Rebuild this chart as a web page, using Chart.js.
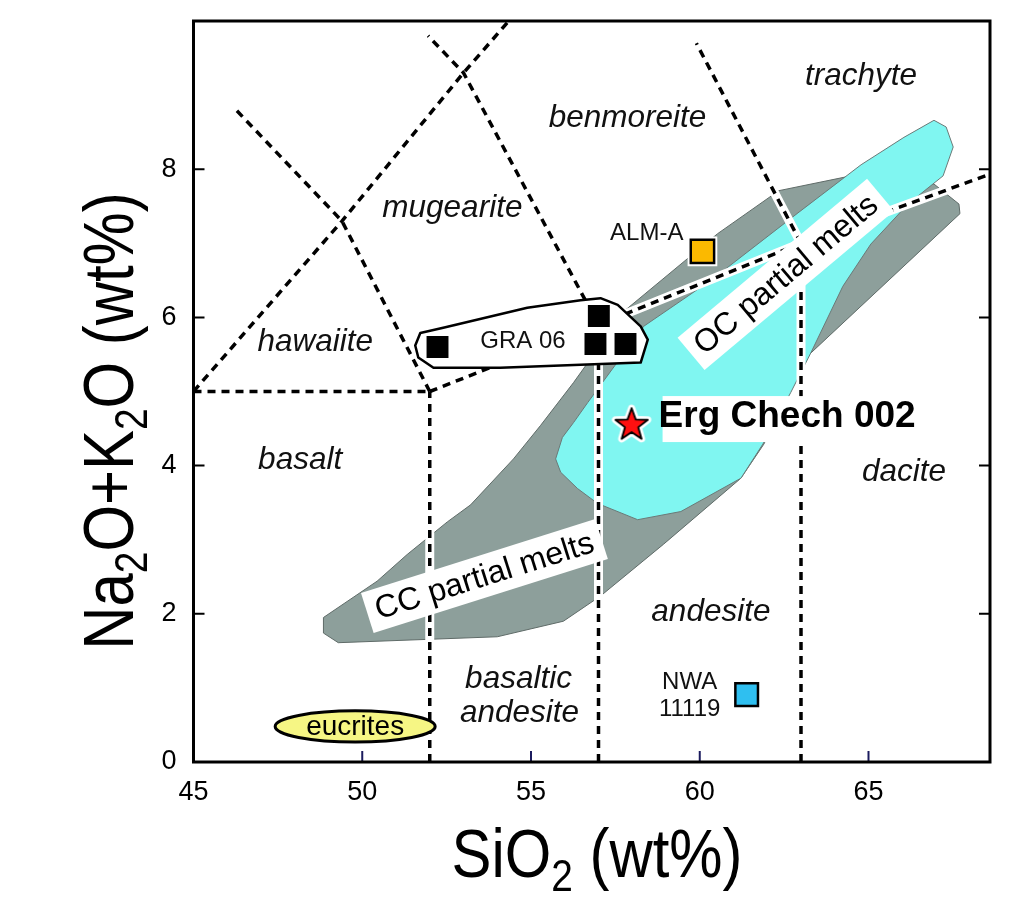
<!DOCTYPE html>
<html>
<head>
<meta charset="utf-8">
<script src="https://cdn.jsdelivr.net/npm/chart.js@4.4.0/dist/chart.umd.min.js"></script>
<style>
  html, body { margin: 0; padding: 0; background: #fff; }
  #wrap { width: 1024px; height: 903px; }
</style>
</head>
<body>
<div id="wrap"><canvas id="tas" width="1024" height="903"></canvas></div>
<script>
// Axis ticks.
var xTicks = [45, 50, 55, 60, 65];
var yTicks = [0, 2, 4, 6, 8];

// TAS field boundaries, as [SiO2, Na2O+K2O] pairs.
var lineBasaltTop = [[45, 5], [52, 5]];
var lineSi52 = [[52, 0], [52, 5]];
var lineTrachyBase = [[52, 5], [57, 5.9], [63, 7], [69, 8]];
var lineSi57 = [[57, 0], [57, 5.9]];
var lineSi63 = [[63, 0], [63, 7]];
var lineHawaiiteTop = [[45, 5], [49.4, 7.3], [53, 9.3], [57.6, 11.7]];
var lineHawaiiteRight = [[52, 5], [49.4, 7.3], [46.2, 8.83]];
var lineMugeariteRight = [[57, 5.9], [53, 9.3], [51.95, 9.8]];
var lineBenmoreiteRight = [[63, 7], [59.9, 9.7]];

// CC partial melts field (grey).
var ccMeltsSiO2 = [48.85, 48.85, 49.29, 54.0, 55.96, 57.06, 58.93, 61.22, 61.90, 62.64, 63.20, 67.71, 67.68, 66.94, 64.48, 62.34, 60.53, 57.80, 56.26, 55.28, 54.48, 53.21, 52.52, 51.33, 50.44];
var ccMeltsAlk = [1.95, 1.74, 1.61, 1.69, 1.90, 2.24, 2.94, 3.83, 4.29, 4.99, 5.48, 7.40, 7.53, 7.80, 7.91, 7.71, 7.13, 6.10, 5.12, 4.54, 4.09, 3.47, 3.24, 2.80, 2.44];

// OC partial melts field (cyan).
var ocMeltsSiO2 = [66.94, 67.30, 67.51, 67.21, 66.17, 65.07, 64.24, 63.29, 62.70, 61.87, 61.22, 59.44, 58.16, 56.97, 56.38, 55.88, 55.73, 55.93, 56.26, 56.68, 58.34, 60.33, 62.91, 64.78, 66.05];
var ocMeltsAlk = [8.66, 8.57, 8.30, 7.91, 7.53, 6.99, 6.42, 5.52, 4.99, 4.29, 3.83, 3.38, 3.27, 3.49, 3.69, 3.91, 4.09, 4.38, 4.58, 4.85, 5.88, 6.50, 7.41, 8.06, 8.43];

// GRA 06 envelope.
var graEnvSiO2 = [51.72, 51.57, 51.66, 52.11, 54.09, 58.25, 58.46, 58.25, 57.57, 57.06, 56.47, 54.89, 52.40];
var graEnvAlk = [5.79, 5.62, 5.46, 5.32, 5.32, 5.39, 5.70, 5.88, 6.17, 6.26, 6.23, 6.13, 5.86];

// Eucrites field (ellipse centre and half axes in wt%).
var eucriteCentre = [49.79, 0.48];
var eucriteHalfAxes = [2.37, 0.21];

// Samples.
var graSiO2 = [52.23, 57.01, 56.91, 57.80];
var graAlk = [5.60, 6.02, 5.64, 5.64];
var almSiO2 = [60.08];
var almAlk = [6.89];
var nwaSiO2 = [61.39];
var nwaAlk = [0.91];
var ergSiO2 = [57.98];
var ergAlk = [4.56];

// Text labels, anchored in data units.
var fieldNames = ['trachyte', 'benmoreite', 'mugearite', 'hawaiite', 'basalt', 'dacite', 'andesite', 'basaltic', 'andesite'];
var fieldNameX = [64.78, 57.86, 52.67, 48.61, 48.16, 66.05, 60.33, 54.63, 54.66];
var fieldNameY = [9.14, 8.57, 7.36, 5.55, 3.95, 3.79, 1.90, 1.005, 0.54];
var sampleNames = ['ALM-A', 'GRA 06', 'NWA', '11119'];
var sampleNameX = [58.43, 54.76, 59.70, 59.70];
var sampleNameY = [7.05, 5.59, 0.98, 0.62];
var meltLabels = ['OC partial melts', 'CC partial melts'];
var meltLabelX = [62.55, 53.62];
var meltLabelY = [6.58, 2.51];
var meltLabelAngle = [-40, -17.5];

var SANS = "'Liberation Sans', Arial, sans-serif";

function toPoints(pairs) {
  return pairs.map(function (p) { return { x: p[0], y: p[1] }; });
}

function zipPoints(xs, ys) {
  return xs.map(function (x, i) { return { x: x, y: ys[i] }; });
}

function px(chart, x, y) {
  return [chart.scales.x.getPixelForValue(x), chart.scales.y.getPixelForValue(y)];
}

function tracePolygon(ctx, chart, xs, ys) {
  ctx.beginPath();
  for (var i = 0; i < xs.length; i++) {
    var p = px(chart, xs[i], ys[i]);
    if (i === 0) ctx.moveTo(p[0], p[1]); else ctx.lineTo(p[0], p[1]);
  }
  ctx.closePath();
}

// Five-pointed star marker with a white halo.
function makeStar() {
  var c = document.createElement('canvas');
  c.width = 46; c.height = 46;
  var g = c.getContext('2d');
  g.beginPath();
  for (var i = 0; i < 10; i++) {
    var r = i % 2 === 0 ? 17 : 7;
    var a = -Math.PI / 2 + i * Math.PI / 5;
    var x = 23 + r * Math.cos(a), y = 24 + r * Math.sin(a);
    if (i === 0) g.moveTo(x, y); else g.lineTo(x, y);
  }
  g.closePath();
  g.lineJoin = 'round';
  g.strokeStyle = '#fff';
  g.lineWidth = 7;
  g.stroke();
  g.fillStyle = '#ff1010';
  g.fill();
  g.strokeStyle = '#000';
  g.lineWidth = 1.8;
  g.stroke();
  return c;
}

var boundaries = [lineBasaltTop, lineSi52, lineTrachyBase, lineSi57, lineSi63,
  lineHawaiiteTop, lineHawaiiteRight, lineMugeariteRight, lineBenmoreiteRight];

var datasets = [];
boundaries.forEach(function (b) {
  // White strip under each boundary, visible where it crosses the melt fields.
  datasets.push({ label: 'strip', data: toPoints(b), showLine: true, borderColor: '#fff',
    borderWidth: 9, pointRadius: 0, clip: 0, order: 30 });
  datasets.push({ label: 'boundary', data: toPoints(b), showLine: true, borderColor: '#000',
    borderWidth: 3.5, borderDash: [8, 6], pointRadius: 0, clip: 0, order: 20 });
});
datasets.push({ label: 'ALM-A halo', data: zipPoints(almSiO2, almAlk), pointStyle: 'rect',
  pointRadius: 21, backgroundColor: '#fff', borderWidth: 0, order: 6 });
datasets.push({ label: 'GRA 06', data: zipPoints(graSiO2, graAlk), pointStyle: 'rect',
  pointRadius: 15.5, backgroundColor: '#000', borderWidth: 0, order: 5 });
datasets.push({ label: 'ALM-A', data: zipPoints(almSiO2, almAlk), pointStyle: 'rect',
  pointRadius: 16.5, backgroundColor: '#fbb900', borderColor: '#000', borderWidth: 2.5, order: 4 });
datasets.push({ label: 'NWA 11119', data: zipPoints(nwaSiO2, nwaAlk), pointStyle: 'rect',
  pointRadius: 16, backgroundColor: '#2fbff0', borderColor: '#000', borderWidth: 2.5, order: 3 });
datasets.push({ label: 'Erg Chech 002', data: zipPoints(ergSiO2, ergAlk), pointStyle: makeStar(),
  order: 2 });

// Draws text made of normal and subscript parts, centred on x, squeezed sideways.
function drawParts(ctx, parts, x, y, size, squeeze) {
  var total = 0;
  parts.forEach(function (p) {
    ctx.font = (p.sub ? size * 0.65 : size) + 'px ' + SANS;
    p.w = ctx.measureText(p.t).width;
    total += p.w;
  });
  ctx.save();
  ctx.translate(x, y);
  ctx.scale(squeeze, 1);
  var cx = -total / 2;
  parts.forEach(function (p) {
    ctx.font = (p.sub ? size * 0.65 : size) + 'px ' + SANS;
    ctx.fillText(p.t, cx, p.sub ? size * 0.2 : 0);
    cx += p.w;
  });
  ctx.restore();
}

var tasPlugin = {
  id: 'tas',
  beforeDatasetsDraw: function (chart) {
    var ctx = chart.ctx, a = chart.chartArea;
    ctx.save();
    ctx.beginPath();
    ctx.rect(a.left, a.top, a.right - a.left, a.bottom - a.top);
    ctx.clip();
    ctx.lineWidth = 1;
    ctx.strokeStyle = '#5f6b68';
    tracePolygon(ctx, chart, ccMeltsSiO2, ccMeltsAlk);
    ctx.fillStyle = '#8d9f9b';
    ctx.fill();
    ctx.stroke();
    tracePolygon(ctx, chart, ocMeltsSiO2, ocMeltsAlk);
    ctx.fillStyle = '#80f6f1';
    ctx.fill();
    ctx.strokeStyle = '#6a7a78';
    ctx.stroke();
    ctx.restore();
  },
  beforeDatasetDraw: function (chart, args) {
    if (chart.data.datasets[args.index].label !== 'ALM-A halo') return;
    var ctx = chart.ctx;
    ctx.save();

    // Eucrites ellipse.
    var c = px(chart, eucriteCentre[0], eucriteCentre[1]);
    var e = px(chart, eucriteCentre[0] + eucriteHalfAxes[0], eucriteCentre[1] + eucriteHalfAxes[1]);
    ctx.beginPath();
    ctx.ellipse(c[0], c[1], e[0] - c[0], c[1] - e[1], 0, 0, Math.PI * 2);
    ctx.fillStyle = '#f6f684';
    ctx.fill();
    ctx.lineWidth = 3;
    ctx.strokeStyle = '#000';
    ctx.stroke();
    ctx.fillStyle = '#000';
    ctx.font = '28px ' + SANS;
    ctx.textAlign = 'center';
    ctx.textBaseline = 'middle';
    ctx.fillText('eucrites', c[0], c[1] + 1);

    // GRA 06 envelope.
    tracePolygon(ctx, chart, graEnvSiO2, graEnvAlk);
    ctx.fillStyle = '#fff';
    ctx.fill();
    ctx.lineWidth = 2.5;
    ctx.lineJoin = 'round';
    ctx.strokeStyle = '#000';
    ctx.stroke();

    // Boxed melt labels.
    ctx.font = '32px ' + SANS;
    meltLabels.forEach(function (t, i) {
      var p = px(chart, meltLabelX[i], meltLabelY[i]);
      var w = ctx.measureText(t).width;
      ctx.save();
      ctx.translate(p[0], p[1]);
      ctx.rotate(meltLabelAngle[i] * Math.PI / 180);
      ctx.fillStyle = '#fff';
      ctx.fillRect(-w / 2 - 9, -21, w + 18, 42);
      ctx.fillStyle = '#000';
      ctx.fillText(t, 0, 1);
      ctx.restore();
    });

    // Erg Chech 002 label on a white box.
    var ep = px(chart, 58.78, 4.52);
    ctx.font = 'bold 37px ' + SANS;
    var ew = ctx.measureText('Erg Chech 002').width;
    ctx.fillStyle = '#fff';
    ctx.fillRect(ep[0] + 4, ep[1] - 31, ew, 46);
    ctx.fillStyle = '#000';
    ctx.textAlign = 'left';
    ctx.textBaseline = 'alphabetic';
    ctx.fillText('Erg Chech 002', ep[0], ep[1]);
    ctx.restore();
  },
  afterDatasetsDraw: function (chart) {
    var ctx = chart.ctx;
    ctx.save();
    ctx.fillStyle = '#111';
    ctx.textAlign = 'center';
    ctx.textBaseline = 'alphabetic';
    ctx.font = 'italic 31.5px ' + SANS;
    fieldNames.forEach(function (t, i) {
      var p = px(chart, fieldNameX[i], fieldNameY[i]);
      ctx.fillText(t, p[0], p[1]);
    });
    ctx.font = '24px ' + SANS;
    sampleNames.forEach(function (t, i) {
      var p = px(chart, sampleNameX[i], sampleNameY[i]);
      ctx.fillText(t, p[0], p[1]);
    });
    ctx.restore();
  },
  afterDraw: function (chart) {
    var ctx = chart.ctx, a = chart.chartArea;
    var sx = chart.scales.x, sy = chart.scales.y;
    ctx.save();
    // Inward tick marks.
    ctx.lineWidth = 2;
    ctx.strokeStyle = '#1b1b5e';
    xTicks.slice(1).forEach(function (v) {
      var x = sx.getPixelForValue(v);
      ctx.beginPath();
      ctx.moveTo(x, a.bottom);
      ctx.lineTo(x, a.bottom - 11);
      ctx.stroke();
    });
    ctx.strokeStyle = '#000';
    yTicks.slice(1).forEach(function (v) {
      var y = sy.getPixelForValue(v);
      ctx.beginPath();
      ctx.moveTo(a.left, y);
      ctx.lineTo(a.left + 11, y);
      ctx.moveTo(a.right, y);
      ctx.lineTo(a.right - 11, y);
      ctx.stroke();
    });
    // Frame.
    ctx.lineWidth = 3;
    ctx.strokeRect(a.left, a.top, a.right - a.left, a.bottom - a.top);

    // Axis titles.
    ctx.fillStyle = '#000';
    ctx.textAlign = 'left';
    ctx.textBaseline = 'alphabetic';
    drawParts(ctx, [{ t: 'SiO' }, { t: '2', sub: true }, { t: ' (wt%)' }], 597, 877, 68, 0.88);
    ctx.translate(133, 421);
    ctx.rotate(-Math.PI / 2);
    drawParts(ctx, [{ t: 'Na' }, { t: '2', sub: true }, { t: 'O+K' }, { t: '2', sub: true }, { t: 'O (wt%)' }],
      0, 0, 70, 0.855);
    ctx.restore();
  }
};

new Chart(document.getElementById('tas'), {
  type: 'scatter',
  data: { datasets: datasets },
  options: {
    responsive: false,
    animation: false,
    events: [],
    layout: { padding: { left: 0, top: 15, right: 34, bottom: 0 } },
    plugins: { legend: { display: false }, tooltip: { enabled: false } },
    scales: {
      x: {
        type: 'linear', min: 45, max: 68.6,
        grid: { display: false, drawTicks: false },
        border: { display: false },
        afterBuildTicks: function (s) { s.ticks = xTicks.map(function (v) { return { value: v }; }); },
        afterFit: function (s) { s.height = 141; s.paddingLeft = 0; s.paddingRight = 0; },
        ticks: { color: '#000', padding: 14, font: { family: SANS, size: 27 } }
      },
      y: {
        type: 'linear', min: 0, max: 10,
        grid: { display: false, drawTicks: false },
        border: { display: false },
        afterBuildTicks: function (s) { s.ticks = yTicks.map(function (v) { return { value: v }; }); },
        afterFit: function (s) { s.width = 193.5; s.paddingTop = 0; s.paddingBottom = 0; },
        ticks: { color: '#000', padding: 17, font: { family: SANS, size: 27 } }
      }
    }
  },
  plugins: [tasPlugin]
});
</script>
</body>
</html>
